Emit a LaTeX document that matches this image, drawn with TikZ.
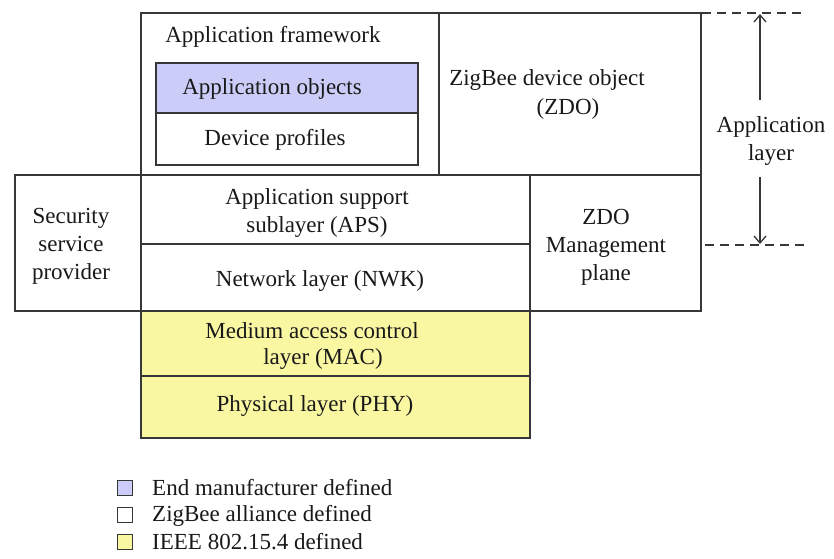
\documentclass[tikz,border=0pt]{standalone}
\usepackage{fontspec}
\setmainfont{Liberation Serif}
\usetikzlibrary{arrows.meta}
\definecolor{lav}{RGB}{204,204,248}
\definecolor{yel}{RGB}{250,247,163}
\definecolor{ln}{RGB}{55,55,55}
\begin{document}
\begin{tikzpicture}[x=1pt,y=-1pt,
  box/.style={draw=ln, line width=1.7pt, anchor=north west, inner sep=0pt, outer sep=0pt},
  txt/.style={font=\fontsize{23}{28}\selectfont, text=black!90, inner sep=0pt, align=center},
  dashline/.style={draw=ln, line width=1.3pt, dash pattern=on 9pt off 6pt},
  arr/.style={draw=ln, line width=1.3pt, -{Straight Barb[length=7pt,width=12pt]}},
  legbox/.style={draw=ln, line width=1.5pt, minimum width=15pt, minimum height=15pt, inner sep=0pt}]
\useasboundingbox (0,0) rectangle (834,558);
\fill[white] (0,0) rectangle (834,558);
% boxes
\node[box, minimum width=298pt, minimum height=162pt] (af) at (141,13) {};
\node[box, minimum width=262pt, minimum height=162pt] (zdo) at (439,13) {};
\node[box, fill=lav, minimum width=262pt, minimum height=50pt] (ao) at (156,63) {};
\node[box, minimum width=262pt, minimum height=52pt] (dp) at (156,113) {};
\node[box, minimum width=126pt, minimum height=136pt] (ssp) at (15,175) {};
\node[box, minimum width=389pt, minimum height=69pt] (aps) at (141,175) {};
\node[box, minimum width=389pt, minimum height=67pt] (nwk) at (141,244) {};
\node[box, minimum width=171pt, minimum height=136pt] (zmp) at (530,175) {};
\node[box, fill=yel, minimum width=389pt, minimum height=65pt] (mac) at (141,311) {};
\node[box, fill=yel, minimum width=389pt, minimum height=62pt] (phy) at (141,376) {};
% texts
\node[txt] (taf) at (273,37) {Application framework};
\node[txt] (tao) at (272,89) {Application objects};
\node[txt] (tdp) at (275,140) {Device profiles};
\node[txt] (tzdo1) at (547,80) {ZigBee device object};
\node[txt] (tzdo2) at (568,109) {(ZDO)};
\node[txt] (tssp) at (71,246) {Security\\service\\provider};
\node[txt] (taps) at (317,213) {Application support\\sublayer (APS)};
\node[txt] (tnwk) at (320,281) {Network layer (NWK)};
\node[txt] (tzmp) at (606,247) {ZDO\\Management\\plane};
\node[txt] (tmac1) at (312,331) {Medium access control};
\node[txt] (tmac2) at (323,359) {layer (MAC)};
\node[txt] (tphy) at (315,406) {Physical layer (PHY)};
% application layer marker
\node[txt] (tal) at (771,141) {Application\\layer};
\coordinate (dt1) at (702,13);
\coordinate (dt2) at (804,13);
\coordinate (db1) at (705,245);
\coordinate (db2) at (804,245);
\draw[dashline] (dt1) -- (dt2);
\draw[dashline] (db1) -- (db2);
\coordinate (at1) at (760,100);
\coordinate (at2) at (760,14);
\coordinate (ab1) at (760,177);
\coordinate (ab2) at (760,244);
\draw[arr] (at1) -- (at2);
\draw[arr] (ab1) -- (ab2);
% legend
\node[legbox, fill=lav] (l1) at (125,488) {};
\node[legbox, fill=white] (l2) at (125,515) {};
\node[legbox, fill=yel] (l3) at (125,542) {};
\node[txt, anchor=west] (lt1) at (152,488) {End manufacturer defined};
\node[txt, anchor=west] (lt2) at (152,516) {ZigBee alliance defined};
\node[txt, anchor=west] (lt3) at (152,542) {IEEE 802.15.4 defined};
\end{tikzpicture}
\end{document}
